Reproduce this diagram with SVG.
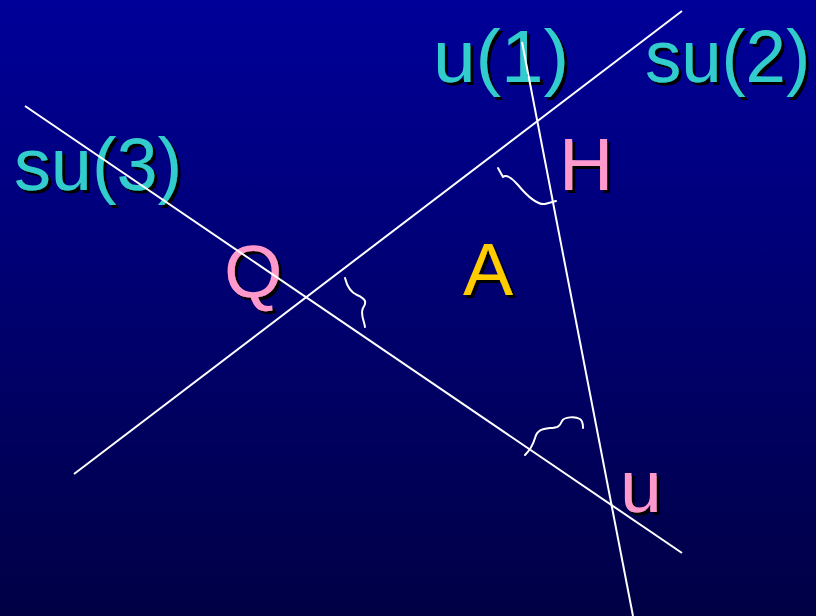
<svg xmlns="http://www.w3.org/2000/svg" width="816" height="616" viewBox="0 0 816 616">
<defs>
<linearGradient id="bg" x1="0" y1="0" x2="0" y2="1">
<stop offset="0" stop-color="#000099"/>
<stop offset="1" stop-color="#000045"/>
</linearGradient>
<filter id="shadow" x="-10%" y="-10%" width="130%" height="130%">
<feFlood flood-color="#000000"/>
<feComposite in2="SourceAlpha" operator="in"/>
<feOffset dx="3" dy="3" result="s"/>
<feMerge><feMergeNode in="s"/><feMergeNode in="SourceGraphic"/></feMerge>
</filter>
</defs>
<style>
.t{font-family:"Liberation Sans",Arial,sans-serif;font-size:75px;filter:url(#shadow)}
.cy{fill:#33cccc}
.pk{fill:#ff99cc}
.ye{fill:#ffcc00}
.ln{stroke:#ffffff;stroke-width:2;fill:none}
.sq{stroke:#ffffff;stroke-width:2;fill:none;stroke-linecap:round;stroke-linejoin:round}
</style>
<rect width="816" height="616" fill="url(#bg)"/>
<g id="labels">
<g id="u1"><text class="t cy" x="433" y="82" textLength="136" lengthAdjust="spacingAndGlyphs">u(1)</text></g>
<g id="su2"><text class="t cy" x="645" y="82" textLength="165" lengthAdjust="spacingAndGlyphs">su(2)</text></g>
<g id="su3"><text class="t cy" x="14" y="190" textLength="168" lengthAdjust="spacingAndGlyphs">su(3)</text></g>
<g id="H"><text class="t pk" x="559" y="190">H</text></g>
<g id="Q"><text class="t pk" x="224" y="297">Q</text></g>
<g id="A"><text class="t ye" x="463" y="295">A</text></g>
<g id="u"><text class="t pk" x="620" y="512">u</text></g>
</g>
<g id="connectors">
<line class="ln" x1="74" y1="474" x2="682" y2="11"/>
<line class="ln" x1="25" y1="106" x2="682" y2="553"/>
<line class="ln" x1="522" y1="42" x2="633" y2="616"/>
<path class="sq" d="M498,168 L503,177 C506,174 512,178 518,185 C528,197 538,205 545,204 L556,201"/>
<path class="sq" d="M345,278 C347,286 350,292 357,295 C366,299 367,302 363,308 C360,314 364,320 365,327"/>
<path class="sq" d="M525,455 C530,450 533,445 535,438 C537,430 542,429 550,428 C558,428 560,426 562,421 C564,417 575,416 580,419 C583,421 583,425 583,428"/>
</g>
</svg>
